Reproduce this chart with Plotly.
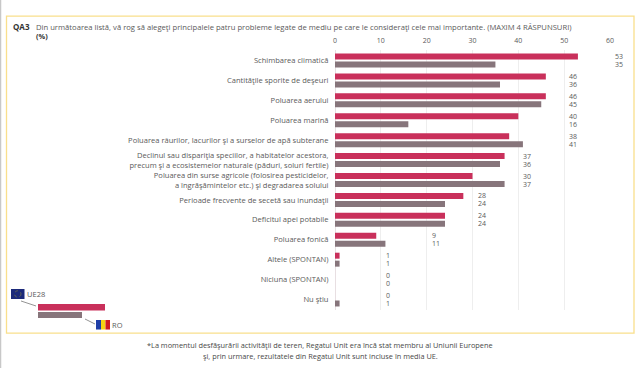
import plotly.graph_objects as go

categories = [
    "Schimbarea climatică",
    "Cantităţile sporite de deşeuri",
    "Poluarea aerului",
    "Poluarea marină",
    "Poluarea râurilor, lacurilor şi a surselor de apă subterane",
    "Declinul sau dispariţia speciilor, a habitatelor acestora,<br>precum şi a ecosistemelor naturale (păduri, soluri fertile)",
    "Poluarea din surse agricole (folosirea pesticidelor,<br>a îngrăşămintelor etc.) şi degradarea solului",
    "Perioade frecvente de secetă sau inundaţii",
    "Deficitul apei potabile",
    "Poluarea fonică",
    "Altele (SPONTAN)",
    "Niciuna (SPONTAN)",
    "Nu ştiu",
]
ue28 = [53, 46, 46, 40, 38, 37, 30, 28, 24, 9, 1, 0, 0]
ro = [35, 36, 45, 16, 41, 36, 37, 24, 24, 11, 1, 0, 1]
x_ticks = [0, 10, 20, 30, 40, 50, 60]
title_code = "QA3"
title_text = "Din următoarea listă, vă rog să alegeţi principalele patru probleme legate de mediu pe care le consideraţi cele mai importante. (MAXIM 4 RĂSPUNSURI)"
unit_text = "(%)"
footnote = ["*La momentul desfăşurării activităţii de teren, Regatul Unit era încă stat membru al Uniunii Europene",
            "şi, prin urmare, rezultatele din Regatul Unit sunt incluse în media UE."]

RED = "#c9305b"
GRAY = "#87757b"
YELLOW = "#f9df8c"
TEXT = "#5a5a5a"
FONT = "Open Sans"
W, H = 640, 368
L, R, T, B = 335, 610, 50.3, 310


def px(x):
    return (x - L) / (R - L)


def py(y):
    return (B - y) / (B - T)


fig = go.Figure()
fig.add_bar(y=categories, x=ue28, orientation="h", marker=dict(color=RED, line_width=0), name="UE28")
fig.add_bar(y=categories, x=ro, orientation="h", marker=dict(color=GRAY, line_width=0), name="RO")

ann = []
for c, a, b in zip(categories, ue28, ro):
    anchor = (max(a, b) // 10 + 1) * 10
    for v, shift in ((a, 4), (b, -4)):
        ann.append(dict(x=anchor, y=c, xref="x", yref="y", text=str(v), showarrow=False, xanchor="left",
                        xshift=3, yshift=shift, font=dict(size=7, color=TEXT, family=FONT)))


def text(x, y, s, size=7.4, anchor="left", color=TEXT, bold=False):
    ann.append(dict(x=px(x), y=py(y), xref="paper", yref="paper", text=f"<b>{s}</b>" if bold else s,
                    showarrow=False, xanchor=anchor, yanchor="middle", align=anchor,
                    font=dict(size=size, color=color, family=FONT), borderpad=0, borderwidth=0))


text(13, 27, title_code, 8, color="#333333", bold=True)
text(36, 27, title_text, 7.67)
text(36, 36, unit_text, 7.4, color="#333333", bold=True)
text(320, 344.5, footnote[0], 7.35, "center", "#484848")
text(320, 356, footnote[1], 7.35, "center", "#484848")
text(27, 294, "UE28", 7.5)
text(112, 325, "RO", 7.5)

shapes = []


def rect(x0, y0, x1, y1, fill=None, line=None, lw=0):
    shapes.append(dict(type="rect", xref="paper", yref="paper", x0=px(x0), x1=px(x1), y0=py(y0), y1=py(y1),
                       fillcolor=fill, line=dict(color=line, width=lw), layer="above"))


def seg(x0, y0, x1, y1, col, lw=1):
    shapes.append(dict(type="line", xref="paper", yref="paper", x0=px(x0), x1=px(x1), y0=py(y0), y1=py(y1),
                       line=dict(color=col, width=lw), layer="above"))


rect(6.5, 16.5, 634, 333, None, YELLOW, 1.3)
seg(0.5, 0, 0.5, 368, "#c8c8c8", 1.5)
rect(38, 304, 105, 310.5, RED)
rect(38, 312, 82, 318, GRAY)
seg(21, 301, 36, 306, "#777777", 0.8)
seg(85, 319, 95, 324, "#777777", 0.8)
rect(11, 289, 24.5, 299, "#1c2a7a")
shapes.append(dict(type="circle", xref="paper", yref="paper", x0=px(14.5), x1=px(21), y0=py(290.8), y1=py(297.2),
                   line=dict(color="#8f8a3c", width=0.6, dash="dot"), layer="above"))
rect(96, 320, 101, 329.5, "#1f3fa8")
rect(101, 320, 105.5, 329.5, "#f5d312")
rect(105.5, 320, 110, 329.5, "#d01a22")

fig.update_layout(
    width=W, height=H, autosize=False, showlegend=False,
    paper_bgcolor="white", plot_bgcolor="white",
    margin=dict(l=L, r=W - R, t=T, b=H - B, pad=0),
    barmode="group", bargap=0.2, bargroupgap=0.25,
    annotations=ann, shapes=shapes,
    font=dict(family=FONT, color=TEXT, size=8),
    xaxis=dict(side="top", range=[0, 60], tickvals=x_ticks, showgrid=True, gridcolor="#eeeeee", gridwidth=1,
               zeroline=True, zerolinecolor="#e8dfe2", zerolinewidth=1, showline=False,
               ticks="outside", ticklen=3, tickcolor="rgba(0,0,0,0)",
               tickfont=dict(size=7, color=TEXT, family=FONT)),
    yaxis=dict(categoryorder="array", categoryarray=categories, autorange="reversed", showgrid=False,
               zeroline=False, showline=False, ticks="outside", ticklen=4, tickcolor="rgba(0,0,0,0)",
               tickfont=dict(size=7.55, color=TEXT, family=FONT)),
)

fig.write_html("out.html", config={"displayModeBar": False}, post_script="document.body.style.margin='0';")
